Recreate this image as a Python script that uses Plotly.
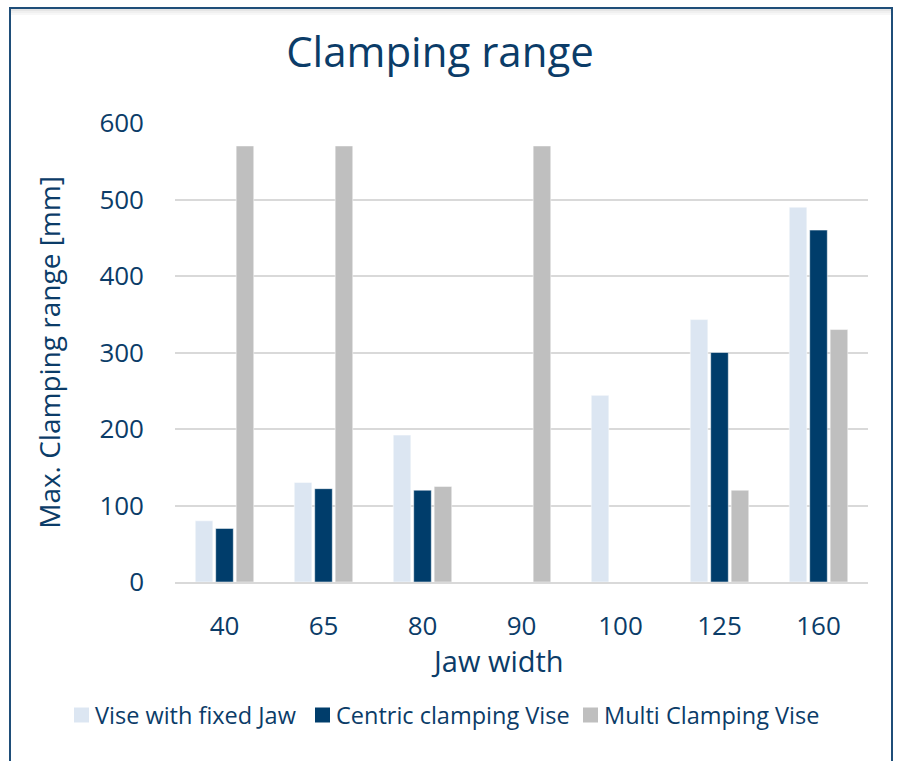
import plotly.graph_objects as go

categories = ["40", "65", "80", "90", "100", "125", "160"]
fixed_jaw = [80, 130, 192, None, 244, 343, 490]
centric = [70, 122, 120, None, None, 300, 460]
multi = [570, 570, 125, 570, None, 120, 330]

series_names = ["Vise with fixed Jaw", "Centric clamping Vise", "Multi Clamping Vise"]
colors = ["#DCE6F2", "#003D6B", "#BFBFBF"]
y_ticks = [0, 100, 200, 300, 400, 500, 600]

TEXT = "#0B3C68"
FONT = "Open Sans"

fig = go.Figure()
for name, vals, col in zip(series_names, [fixed_jaw, centric, multi], colors):
    fig.add_trace(go.Bar(x=categories, y=vals, name=name, showlegend=False,
                         marker=dict(color=col, line=dict(color="white", width=0.5))))

W, H = 898, 761
L, R, T, B = 175, 30, 123, 179
pw, ph = W - L - R, H - T - B

def px_x(x):
    return (x - L) / pw

def px_y(y):
    return (H - B - y) / ph

# outer frame
fig.add_shape(type="rect", xref="paper", yref="paper",
              x0=px_x(10), x1=px_x(892), y0=px_y(8), y1=px_y(775),
              line=dict(color="#1F4E79", width=2), fillcolor="rgba(0,0,0,0)", layer="below")
# subtle shadow under top frame edge
for i, a in enumerate([0.10, 0.06, 0.03]):
    fig.add_shape(type="line", xref="paper", yref="paper",
                  x0=px_x(11), x1=px_x(891), y0=px_y(10 + 2 * i), y1=px_y(10 + 2 * i),
                  line=dict(color=f"rgba(0,0,0,{a})", width=2), layer="below")

# x-axis title (offset left as in the original)
fig.add_annotation(xref="paper", yref="paper", x=px_x(497), y=px_y(660),
                   xanchor="center", yanchor="middle", showarrow=False,
                   text="Jaw width", font=dict(size=29, color=TEXT, family=FONT))

# manual legend (square swatch + label)
legend_sq_x = [74, 315, 583]
legend_y = 715
for name, col, sx in zip(series_names, colors, legend_sq_x):
    fig.add_shape(type="rect", xref="paper", yref="paper",
                  x0=px_x(sx), x1=px_x(sx + 15), y0=px_y(legend_y - 7.5), y1=px_y(legend_y + 7.5),
                  line=dict(width=0), fillcolor=col)
    fig.add_annotation(xref="paper", yref="paper", x=px_x(sx + 19), y=px_y(legend_y),
                       xanchor="left", yanchor="middle", showarrow=False,
                       text=name, font=dict(size=23.5, color=TEXT, family=FONT))

fig.update_layout(
    width=W, height=H,
    margin=dict(l=L, r=R, t=T, b=B),
    paper_bgcolor="white", plot_bgcolor="white",
    font=dict(family=FONT, color=TEXT),
    title=dict(text="Clamping range", xref="container", x=440 / W, xanchor="center",
               yref="container", y=1 - 52 / H, yanchor="middle",
               font=dict(size=42, color=TEXT, family=FONT)),
    barmode="group", bargap=0.38, bargroupgap=0.14,
    showlegend=False,
    xaxis=dict(tickfont=dict(size=26, color=TEXT), ticklabelstandoff=20,
               showline=True, linecolor="#D9D9D9", linewidth=2, showgrid=False,
               ticks=""),
    yaxis=dict(title=dict(text="Max. Clamping range [mm]", font=dict(size=28, color=TEXT), standoff=30),
               tickfont=dict(size=26, color=TEXT), tickvals=y_ticks, range=[0, 600],
               showgrid=True, gridcolor="#D9D9D9", gridwidth=2, zeroline=False,
               ticklabelstandoff=30, showline=False, ticks=""),
)

fig.write_html("out.html", config={"displayModeBar": False},
               post_script="document.body.style.margin='0';document.body.style.overflow='hidden';")
